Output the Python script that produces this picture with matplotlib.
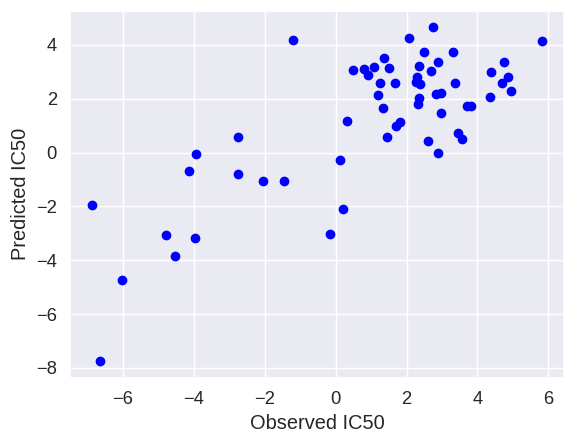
import matplotlib
matplotlib.use("Agg")
import matplotlib.pyplot as plt
import seaborn as sns

# observed vs predicted IC50 values
observed = [
    -1.21, -2.76, -3.95, -4.13, -2.76, -2.06, -1.47,
    -6.86, -4.78, -3.97, -4.53, -6.02, -6.66,
    0.21, -0.17,
    2.75, 2.07, 2.49, 3.31, 1.37, 2.89, 2.35, 0.50, 0.80, 1.09,
    1.51, 0.90, 2.69, 2.30, 2.28, 2.38, 1.26, 1.68, 1.20, 2.35,
    2.33, 2.82, 2.98, 1.34, 2.97, 0.33, 1.81, 1.69, 1.46, 2.61,
    2.89, 0.11,
    5.81, 4.75, 4.38, 4.85, 4.69, 4.94, 4.35, 3.37, 3.72, 3.83,
    3.45, 3.56,
]
predicted = [
    4.17, 0.56, -0.04, -0.70, -0.80, -1.07, -1.07,
    -1.96, -3.05, -3.17, -3.84, -4.72, -7.75,
    -2.10, -3.03,
    4.65, 4.27, 3.73, 3.73, 3.51, 3.36, 3.21, 3.07, 3.12, 3.17,
    3.14, 2.88, 3.04, 2.80, 2.61, 2.55, 2.58, 2.58, 2.14, 2.04,
    1.81, 2.18, 2.21, 1.66, 1.48, 1.18, 1.13, 1.00, 0.59, 0.41,
    0.00, -0.26,
    4.13, 3.36, 2.99, 2.80, 2.58, 2.29, 2.07, 2.58, 1.73, 1.73,
    0.71, 0.50,
]

sns.set_theme(style="darkgrid", font_scale=1.2)
plt.rcParams["font.family"] = ["Liberation Sans", "DejaVu Sans"]

fig = plt.figure(figsize=(5.74, 4.45), dpi=100)
ax = fig.add_axes([0.122, 0.151, 0.8606, 0.825])
ax.scatter(observed, predicted, color="blue")
ax.set_xlabel("Observed IC50")
ax.set_ylabel("Predicted IC50")

plt.savefig("out.png", dpi=100)
